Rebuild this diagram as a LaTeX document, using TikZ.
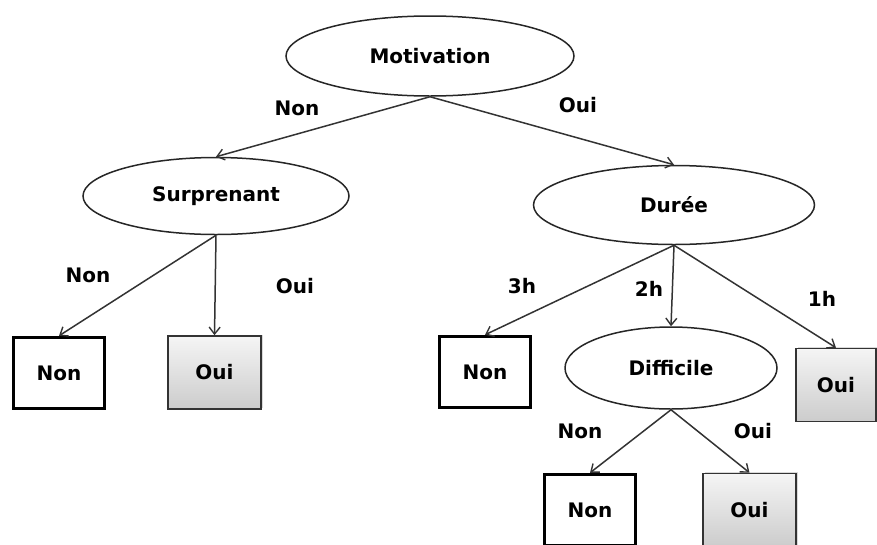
\documentclass[tikz,border=0pt]{standalone}
\usepackage{fontspec}
\setmainfont{DejaVu Sans}
\usetikzlibrary{shapes.geometric,arrows.meta,shadows}

\tikzset{
  question/.style={ellipse, draw=black!85, line width=1.5pt, fill=white, inner sep=0pt},
  leafno/.style={rectangle, draw=black, line width=3.4pt, fill=white,
    minimum width=91pt, minimum height=71pt, inner sep=0pt},
  leafyes/.style={rectangle, draw=black!80, line width=1.6pt,
    top color=gray!8, bottom color=gray!40,
    drop shadow={opacity=0.3, shadow xshift=1.5pt, shadow yshift=1.5pt},
    minimum width=93pt, minimum height=73pt, inner sep=0pt},
  branch/.style={draw=black!80, line width=1.5pt,
    -{Straight Barb[length=7pt,width=11pt,line width=1.4pt]}},
  lbl/.style={inner sep=0pt},
  every node/.style={font=\fontsize{20}{24}\selectfont\bfseries}
}

\begin{document}
\begin{tikzpicture}[x=1pt,y=-1pt]
\useasboundingbox (0,0) rectangle (877,544);

% decision nodes
\node[question, minimum width=288pt, minimum height=80pt] (mot) at (430,56) {Motivation};
\node[question, minimum width=266pt, minimum height=77pt] (sur) at (216,196) {Surprenant};
\node[question, minimum width=281pt, minimum height=79pt] (dur) at (674,205) {Durée};
\node[question, minimum width=212pt, minimum height=82pt] (dif) at (671,368) {Difficile};

% leaves
\node[leafno]  (n1) at (59,373)  {Non};
\node[leafyes] (y1) at (214.5,372.5) {Oui};
\node[leafno]  (n2) at (485,372) {Non};
\node[leafyes, minimum width=80pt] (y2) at (836,385) {Oui};
\node[leafno]  (n3) at (590,510) {Non};
\node[leafyes] (y3) at (749.5,510) {Oui};

% branches
\draw[branch] (mot.south) -- (sur.north);
\draw[branch] (mot.south) -- (dur.north);
\draw[branch] (sur.south) -- (n1.north);
\draw[branch] (sur.south) -- (y1.north);
\draw[branch] (dur.south) -- (n2.north);
\draw[branch] (dur.south) -- (dif.north);
\draw[branch] (dur.south) -- (y2.north);
\draw[branch] (dif.south) -- (n3.north);
\draw[branch] (dif.south) -- (y3.north);

% branch labels
\node[lbl] (l1) at (297,108) {Non};
\node[lbl] (l2) at (578,105) {Oui};
\node[lbl] (l3) at (88,275)  {Non};
\node[lbl] (l4) at (295,286) {Oui};
\node[lbl] (l5) at (522,286) {3h};
\node[lbl] (l6) at (649,289) {2h};
\node[lbl] (l7) at (822,299) {1h};
\node[lbl] (l8) at (580,431) {Non};
\node[lbl] (l9) at (753,431) {Oui};
\end{tikzpicture}
\end{document}
